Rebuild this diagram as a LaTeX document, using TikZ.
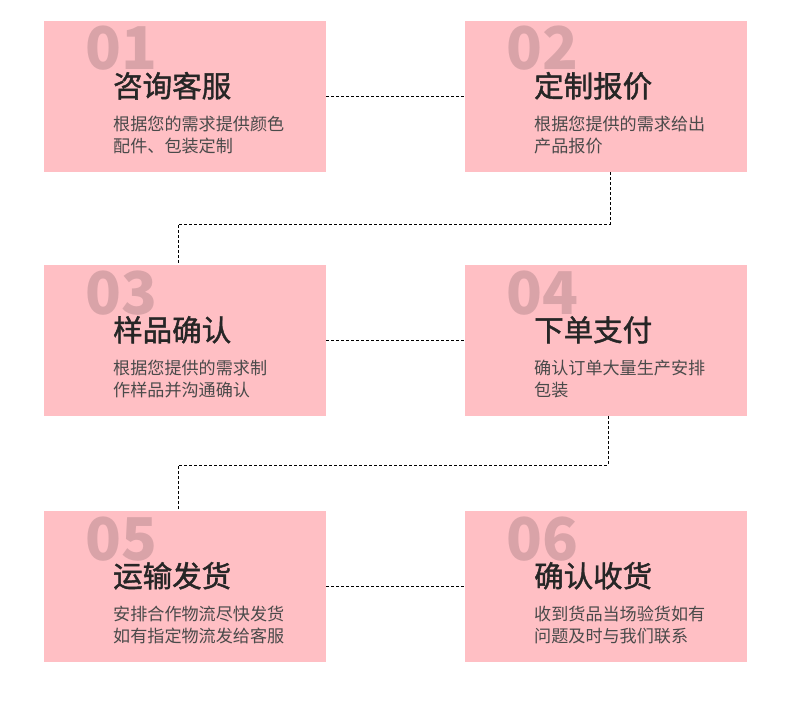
\documentclass[tikz,border=0pt]{standalone}
\usepackage{fontspec}
\newfontfamily\cjk{Noto Sans CJK SC}
\newfontfamily\cjktitle[FakeBold=1.4]{Noto Sans CJK SC}
\definecolor{boxpink}{HTML}{FFBFC4}
\definecolor{numcol}{HTML}{D9A3A8}
\definecolor{titlecol}{HTML}{262626}
\definecolor{desccol}{HTML}{4A4A4A}
\begin{document}
\begin{tikzpicture}[x=1pt,y=-1pt,
  stepbox/.style={fill=boxpink,draw=none,minimum width=282pt,minimum height=151pt,inner sep=0pt,anchor=north west},
  numtxt/.style={anchor=base west,inner sep=0pt,text=numcol,font=\cjk\bfseries\fontsize{59}{59}\selectfont},
  titletxt/.style={anchor=base west,inner sep=0pt,text=titlecol,font=\cjktitle\fontsize{29.5}{29.5}\selectfont},
  desctxt/.style={anchor=base west,inner sep=0pt,text=desccol,font=\cjk\fontsize{17.1}{17.1}\selectfont},
  conn/.style={draw=black,line width=1pt,dash pattern=on 3pt off 2pt}]
\useasboundingbox (0,0) rectangle (790,725);
\fill[white] (0,0) rectangle (790,725);
% boxes
\node[stepbox] (b1) at (44,21) {};
\node[stepbox] (b2) at (465,21) {};
\node[stepbox] (b3) at (44,265) {};
\node[stepbox] (b4) at (465,265) {};
\node[stepbox] (b5) at (44,511) {};
\node[stepbox] (b6) at (465,511) {};
% texts
\foreach \bx/\by/\n/\t/\da/\db in {
  44/21/01/咨询客服/根据您的需求提供颜色/配件、包装定制,
  465/21/02/定制报价/根据您提供的需求给出/产品报价,
  44/265/03/样品确认/根据您提供的需求制/作样品并沟通确认,
  465/265/04/下单支付/确认订单大量生产安排/包装,
  44/511/05/运输发货/安排合作物流尽快发货/如有指定物流发给客服,
  465/511/06/确认收货/收到货品当场验货如有/问题及时与我们联系}{
  \node[numtxt] (n\n) at (\bx+41,\by+49) {\n};
  \node[titletxt] (t\n) at (\bx+69,\by+76) {\t};
  \node[desctxt] (da\n) at (\bx+69,\by+109) {\da};
  \node[desctxt] (db\n) at (\bx+69,\by+131) {\db};
}
% connectors
\coordinate (c1) at (610,224);
\coordinate (c2) at (178,224);
\coordinate (c3) at (608,465);
\coordinate (c4) at (178,465);
\draw[conn] ([yshift=-75pt]b1.north east) -- ([yshift=-75pt]b2.north west);
\draw[conn] ([yshift=-75pt]b3.north east) -- ([yshift=-75pt]b4.north west);
\draw[conn] ([yshift=-75pt]b5.north east) -- ([yshift=-75pt]b6.north west);
\draw[conn] (b2.south -| c1) -- (c1) -- (c2) -- (b3.north -| c2);
\draw[conn] (b4.south -| c3) -- (c3) -- (c4) -- (b5.north -| c4);
\end{tikzpicture}
\end{document}
